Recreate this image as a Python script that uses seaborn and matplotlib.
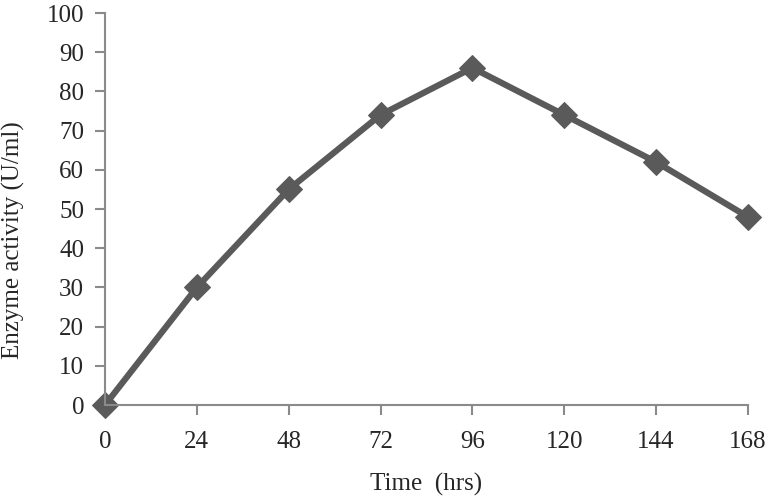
import pandas as pd
import matplotlib.pyplot as plt
import seaborn as sns

# data
time_hrs = [0, 24, 48, 72, 96, 120, 144, 168]
activity = [0, 30, 55, 74, 86, 74, 62, 48]
y_ticks = list(range(0, 101, 10))

df = pd.DataFrame({'Time': time_hrs, 'Activity': activity})

sns.set_style('white')
plt.rcParams['font.family'] = ['Liberation Serif', 'DejaVu Serif']

fig = plt.figure(figsize=(7.74, 5), dpi=100)
ax = fig.add_axes([0.1357, 0.19, 0.8305, 0.784])

sns.lineplot(x='Time', y='Activity', data=df, ax=ax, color='#5a5a5a',
             linewidth=4.5, marker='D', markersize=13, markeredgecolor='#5a5a5a',
             clip_on=False)

ax.set_xlim(0, 168)
ax.set_ylim(0, 100)
ax.set_xticks(time_hrs)
ax.set_yticks(y_ticks)
ax.tick_params(axis='both', labelsize=18, direction='out', length=7, width=1.5,
               color='#8a8a8a', left=True, bottom=True)
ax.tick_params(axis='x', pad=12)
ax.tick_params(axis='y', pad=8)

for side in ['top', 'right']:
    ax.spines[side].set_visible(False)
for side in ['left', 'bottom']:
    ax.spines[side].set_color('#8a8a8a')
    ax.spines[side].set_linewidth(1.5)

ax.set_xlabel('Time  (hrs)', fontsize=18, labelpad=14)
ax.set_ylabel('Enzyme activity (U/ml)', fontsize=18)
ax.yaxis.set_label_coords(-0.125, 0.42)

plt.savefig('out.png', dpi=100, facecolor='white')
